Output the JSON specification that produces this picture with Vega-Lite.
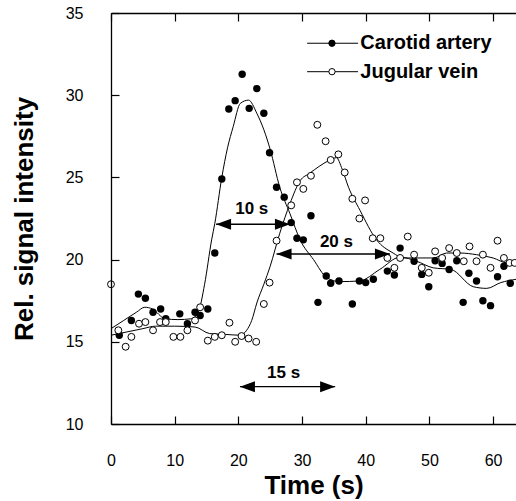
{
  "$schema": "https://vega.github.io/schema/vega-lite/v6.json",
  "width": 405,
  "height": 411,
  "autosize": {"type": "none"},
  "padding": {"left": 111, "top": 13, "right": 0, "bottom": 77},
  "background": "white",
  "config": {
    "view": {"stroke": null},
    "font": "Liberation Sans"
  },
  "datasets": {
    "carotid": [
      {"t": 1.3, "v": 15.4}, {"t": 3.2, "v": 16.3}, {"t": 4.3, "v": 17.9}, {"t": 5.4, "v": 17.65},
      {"t": 6.6, "v": 16.8}, {"t": 7.8, "v": 17.0}, {"t": 8.6, "v": 16.4}, {"t": 10.8, "v": 16.7},
      {"t": 12.0, "v": 16.1}, {"t": 13.2, "v": 16.8}, {"t": 14.0, "v": 16.6}, {"t": 15.2, "v": 17.0},
      {"t": 16.3, "v": 20.4}, {"t": 17.4, "v": 24.9}, {"t": 18.5, "v": 29.16}, {"t": 19.5, "v": 29.67},
      {"t": 20.6, "v": 31.27}, {"t": 21.7, "v": 29.2}, {"t": 22.9, "v": 30.4}, {"t": 24.0, "v": 28.9},
      {"t": 24.9, "v": 26.5}, {"t": 26.0, "v": 24.4}, {"t": 27.2, "v": 23.8}, {"t": 28.3, "v": 22.25},
      {"t": 29.2, "v": 21.3}, {"t": 30.2, "v": 21.2}, {"t": 31.4, "v": 22.67}, {"t": 32.5, "v": 17.4},
      {"t": 33.8, "v": 19.0}, {"t": 34.5, "v": 18.56}, {"t": 35.8, "v": 18.7}, {"t": 37.9, "v": 17.3},
      {"t": 39.0, "v": 18.7}, {"t": 40.0, "v": 18.6}, {"t": 41.2, "v": 18.8}, {"t": 43.4, "v": 19.3},
      {"t": 44.5, "v": 19.06}, {"t": 45.4, "v": 20.7}, {"t": 47.6, "v": 19.9}, {"t": 48.8, "v": 19.1},
      {"t": 49.9, "v": 18.35}, {"t": 50.9, "v": 19.93}, {"t": 52.0, "v": 19.77}, {"t": 53.1, "v": 19.4},
      {"t": 54.3, "v": 19.93}, {"t": 55.3, "v": 17.4}, {"t": 56.2, "v": 19.17}, {"t": 57.4, "v": 18.7},
      {"t": 58.4, "v": 17.5}, {"t": 59.6, "v": 17.2}, {"t": 60.7, "v": 18.96}, {"t": 61.7, "v": 19.6},
      {"t": 62.7, "v": 18.56}
    ],
    "jugular": [
      {"t": 0.0, "v": 18.5}, {"t": 1.15, "v": 15.7}, {"t": 2.3, "v": 14.7}, {"t": 3.2, "v": 15.3},
      {"t": 4.4, "v": 16.1}, {"t": 5.4, "v": 16.2}, {"t": 6.6, "v": 15.7}, {"t": 7.7, "v": 16.2},
      {"t": 8.6, "v": 16.2}, {"t": 9.8, "v": 15.3}, {"t": 10.9, "v": 15.3}, {"t": 12.0, "v": 15.7},
      {"t": 13.2, "v": 16.3}, {"t": 14.0, "v": 17.1}, {"t": 15.2, "v": 15.07}, {"t": 16.3, "v": 15.3},
      {"t": 17.4, "v": 15.4}, {"t": 18.6, "v": 16.16}, {"t": 19.5, "v": 15.0}, {"t": 20.5, "v": 15.35},
      {"t": 21.6, "v": 15.2}, {"t": 22.8, "v": 15.0}, {"t": 24.0, "v": 17.3}, {"t": 24.9, "v": 18.6},
      {"t": 26.0, "v": 21.15}, {"t": 28.3, "v": 23.3}, {"t": 29.2, "v": 24.7}, {"t": 30.2, "v": 24.3},
      {"t": 31.4, "v": 25.1}, {"t": 32.4, "v": 28.2}, {"t": 33.7, "v": 27.2}, {"t": 34.5, "v": 26.06},
      {"t": 35.7, "v": 26.4}, {"t": 36.7, "v": 25.3}, {"t": 37.9, "v": 23.7}, {"t": 39.0, "v": 22.5},
      {"t": 39.9, "v": 23.6}, {"t": 41.1, "v": 21.3}, {"t": 42.3, "v": 21.3}, {"t": 43.4, "v": 20.1},
      {"t": 44.5, "v": 19.5}, {"t": 45.4, "v": 20.1}, {"t": 46.6, "v": 21.4}, {"t": 47.6, "v": 20.3},
      {"t": 48.8, "v": 19.5}, {"t": 49.9, "v": 19.2}, {"t": 50.9, "v": 20.5}, {"t": 52.0, "v": 20.1},
      {"t": 53.1, "v": 20.7}, {"t": 54.3, "v": 20.4}, {"t": 55.4, "v": 19.9}, {"t": 56.3, "v": 20.8},
      {"t": 57.4, "v": 19.9}, {"t": 58.4, "v": 20.3}, {"t": 59.6, "v": 19.5}, {"t": 60.7, "v": 21.15},
      {"t": 61.7, "v": 20.1}, {"t": 62.6, "v": 19.8}, {"t": 63.4, "v": 19.8}
    ],
    "fit": [
      {"series": "Carotid artery", "t": 0, "v": 15.8}, {"series": "Carotid artery", "t": 2, "v": 16.3},
      {"series": "Carotid artery", "t": 4, "v": 16.8}, {"series": "Carotid artery", "t": 5.3, "v": 17.1},
      {"series": "Carotid artery", "t": 6.5, "v": 17.0}, {"series": "Carotid artery", "t": 8.5, "v": 16.4},
      {"series": "Carotid artery", "t": 10.5, "v": 16.35}, {"series": "Carotid artery", "t": 12.6, "v": 16.4},
      {"series": "Carotid artery", "t": 13.7, "v": 16.8}, {"series": "Carotid artery", "t": 14.7, "v": 18.5},
      {"series": "Carotid artery", "t": 15.8, "v": 21.2}, {"series": "Carotid artery", "t": 16.3, "v": 22.2},
      {"series": "Carotid artery", "t": 17.4, "v": 25.0}, {"series": "Carotid artery", "t": 18.3, "v": 26.8},
      {"series": "Carotid artery", "t": 19.2, "v": 28.1}, {"series": "Carotid artery", "t": 20.3, "v": 29.5},
      {"series": "Carotid artery", "t": 21.6, "v": 29.7}, {"series": "Carotid artery", "t": 22.9, "v": 28.9},
      {"series": "Carotid artery", "t": 24.0, "v": 27.9}, {"series": "Carotid artery", "t": 25.0, "v": 26.7},
      {"series": "Carotid artery", "t": 26.5, "v": 24.4}, {"series": "Carotid artery", "t": 28.1, "v": 22.8},
      {"series": "Carotid artery", "t": 29.7, "v": 21.2}, {"series": "Carotid artery", "t": 31.8, "v": 20.0},
      {"series": "Carotid artery", "t": 33.9, "v": 18.9}, {"series": "Carotid artery", "t": 35.9, "v": 18.66},
      {"series": "Carotid artery", "t": 39.0, "v": 18.7}, {"series": "Carotid artery", "t": 42.2, "v": 19.4},
      {"series": "Carotid artery", "t": 45.4, "v": 20.15}, {"series": "Carotid artery", "t": 48.0, "v": 19.9},
      {"series": "Carotid artery", "t": 50.6, "v": 19.5}, {"series": "Carotid artery", "t": 53.4, "v": 19.4},
      {"series": "Carotid artery", "t": 56.9, "v": 18.35}, {"series": "Carotid artery", "t": 59.0, "v": 18.25},
      {"series": "Carotid artery", "t": 61.2, "v": 18.6}, {"series": "Carotid artery", "t": 63.6, "v": 18.8},
      {"series": "Jugular vein", "t": 0, "v": 15.4}, {"series": "Jugular vein", "t": 2.5, "v": 15.6},
      {"series": "Jugular vein", "t": 5, "v": 15.8}, {"series": "Jugular vein", "t": 7, "v": 15.95},
      {"series": "Jugular vein", "t": 10, "v": 15.95}, {"series": "Jugular vein", "t": 13.2, "v": 15.9},
      {"series": "Jugular vein", "t": 15.5, "v": 15.5}, {"series": "Jugular vein", "t": 18, "v": 15.45},
      {"series": "Jugular vein", "t": 20.3, "v": 15.4}, {"series": "Jugular vein", "t": 21.3, "v": 15.7},
      {"series": "Jugular vein", "t": 22.1, "v": 16.3}, {"series": "Jugular vein", "t": 22.9, "v": 17.36},
      {"series": "Jugular vein", "t": 24.0, "v": 18.5}, {"series": "Jugular vein", "t": 25.0, "v": 19.6},
      {"series": "Jugular vein", "t": 26.5, "v": 21.6}, {"series": "Jugular vein", "t": 28.1, "v": 23.4},
      {"series": "Jugular vein", "t": 29.7, "v": 24.8}, {"series": "Jugular vein", "t": 31.2, "v": 25.25},
      {"series": "Jugular vein", "t": 32.8, "v": 25.7}, {"series": "Jugular vein", "t": 34.4, "v": 26.06},
      {"series": "Jugular vein", "t": 35.4, "v": 26.2}, {"series": "Jugular vein", "t": 36.3, "v": 25.5},
      {"series": "Jugular vein", "t": 37.3, "v": 24.4}, {"series": "Jugular vein", "t": 39.1, "v": 23.0},
      {"series": "Jugular vein", "t": 41.7, "v": 21.2}, {"series": "Jugular vein", "t": 44.3, "v": 20.4},
      {"series": "Jugular vein", "t": 45.9, "v": 20.1}, {"series": "Jugular vein", "t": 50.7, "v": 20.1},
      {"series": "Jugular vein", "t": 52.7, "v": 20.4}, {"series": "Jugular vein", "t": 54.8, "v": 20.4},
      {"series": "Jugular vein", "t": 57.4, "v": 20.3}, {"series": "Jugular vein", "t": 60.0, "v": 20.1},
      {"series": "Jugular vein", "t": 62.2, "v": 19.8}, {"series": "Jugular vein", "t": 63.6, "v": 19.8}
    ],
    "arrows": [
      {"label": "10 s", "t": 16.5, "t2": 28.1, "v": 22.15},
      {"label": "20 s", "t": 26.0, "t2": 43.8, "v": 20.34},
      {"label": "15 s", "t": 20.25, "t2": 35.2, "v": 12.27}
    ],
    "arrowLabels": [
      {"label": "10 s", "t": 22.1, "v": 23.06},
      {"label": "20 s", "t": 35.4, "v": 21.1},
      {"label": "15 s", "t": 27.1, "v": 13.08}
    ],
    "legend": [
      {"series": "Carotid artery", "t": 30.8, "t2": 38.8, "tm": 34.7, "tt": 39.0, "v": 33.16},
      {"series": "Jugular vein", "t": 30.8, "t2": 38.8, "tm": 34.7, "tt": 39.0, "v": 31.43}
    ]
  },
  "encoding": {
    "y": {"field": "v", "type": "quantitative", "scale": {"domain": [10, 35], "nice": false, "zero": false},
          "axis": {"orient": "left", "values": [10, 15, 20, 25, 30, 35], "grid": false, "domain": true, "domainColor": "black", "domainWidth": 1.3, "zindex": 1,
                   "ticks": true, "tickColor": "black", "tickWidth": 1.2, "tickSize": -8,
                   "labelFont": "Liberation Sans", "labelFontSize": 16, "labelColor": "black", "labelPadding": 36, "labelFlush": false,
                   "title": "Rel. signal intensity", "titleFont": "Liberation Sans", "titleFontSize": 26, "titleFontWeight": "bold", "titleColor": "black", "titlePadding": 28}}
  },
  "resolve": {"axis": {"x": "independent"}},
  "layer": [
    {
      "data": {"name": "fit"},
      "mark": {"type": "line", "color": "black", "strokeWidth": 1, "interpolate": "monotone"},
      "encoding": {
        "x": {"field": "t", "type": "quantitative", "scale": {"domain": [0, 63.6], "nice": false, "zero": false},
              "axis": {"orient": "bottom", "values": [0, 10, 20, 30, 40, 50, 60], "grid": false, "domain": true, "domainColor": "black", "domainWidth": 1.3, "zindex": 1,
                       "ticks": true, "tickColor": "black", "tickWidth": 1.2, "tickSize": -8,
                       "labelFont": "Liberation Sans", "labelFontSize": 16, "labelColor": "black", "labelPadding": 36, "labelFlush": false,
                       "title": "Time (s)", "titleFont": "Liberation Sans", "titleFontSize": 26, "titleFontWeight": "bold", "titleColor": "black", "titlePadding": 4}},
        "detail": {"field": "series", "type": "nominal"}
      }
    },
    {
      "data": {"name": "carotid"},
      "mark": {"type": "circle", "color": "black", "opacity": 1, "size": 55},
      "encoding": {
        "x": {"field": "t", "type": "quantitative", "scale": {"domain": [0, 63.6], "nice": false, "zero": false},
              "axis": {"orient": "top", "values": [0, 10, 20, 30, 40, 50, 60], "grid": false, "domain": true, "domainColor": "black", "domainWidth": 1.3, "zindex": 1,
                       "ticks": true, "tickColor": "black", "tickWidth": 1.2, "tickSize": -8, "labels": false, "title": null}}
      }
    },
    {
      "data": {"name": "jugular"},
      "mark": {"type": "circle", "fill": "white", "stroke": "black", "strokeWidth": 1, "opacity": 1, "size": 48},
      "encoding": {
        "x": {"field": "t", "type": "quantitative", "scale": {"domain": [0, 63.6], "nice": false, "zero": false}, "axis": null}
      }
    },
    {
      "data": {"name": "arrows"},
      "mark": {"type": "rule", "color": "black", "strokeWidth": 1.3},
      "encoding": {
        "x": {"field": "t", "type": "quantitative", "scale": {"domain": [0, 63.6], "nice": false, "zero": false}, "axis": null},
        "x2": {"field": "t2"}
      }
    },
    {
      "data": {"name": "arrows"},
      "transform": [{"fold": ["t", "t2"], "as": ["end", "tx"]}],
      "mark": {"type": "point", "filled": true, "color": "black", "opacity": 1, "size": 225},
      "encoding": {
        "x": {"field": "tx", "type": "quantitative", "scale": {"domain": [0, 63.6], "nice": false, "zero": false}, "axis": null},
        "shape": {"field": "end", "type": "nominal", "scale": {"domain": ["t", "t2"], "range": ["M0,0L2,-0.73L2,0.73Z", "M0,0L-2,-0.73L-2,0.73Z"]}, "legend": null}
      }
    },
    {
      "data": {"name": "arrowLabels"},
      "mark": {"type": "text", "font": "Liberation Sans", "fontSize": 17, "fontWeight": "bold", "color": "black", "align": "center", "baseline": "middle"},
      "encoding": {
        "x": {"field": "t", "type": "quantitative", "scale": {"domain": [0, 63.6], "nice": false, "zero": false}, "axis": null},
        "text": {"field": "label"}
      }
    },
    {
      "data": {"name": "legend"},
      "mark": {"type": "rule", "color": "black", "strokeWidth": 1},
      "encoding": {
        "x": {"field": "t", "type": "quantitative", "scale": {"domain": [0, 63.6], "nice": false, "zero": false}, "axis": null},
        "x2": {"field": "t2"}
      }
    },
    {
      "data": {"name": "legend"},
      "mark": {"type": "circle", "stroke": "black", "strokeWidth": 1, "opacity": 1, "size": 40},
      "encoding": {
        "x": {"field": "tm", "type": "quantitative", "scale": {"domain": [0, 63.6], "nice": false, "zero": false}, "axis": null},
        "fill": {"field": "series", "type": "nominal", "scale": {"domain": ["Carotid artery", "Jugular vein"], "range": ["black", "white"]}, "legend": null}
      }
    },
    {
      "data": {"name": "legend"},
      "mark": {"type": "text", "font": "Liberation Sans", "fontSize": 20, "fontWeight": "bold", "color": "black", "align": "left", "baseline": "middle", "dx": 1},
      "encoding": {
        "x": {"field": "tt", "type": "quantitative", "scale": {"domain": [0, 63.6], "nice": false, "zero": false}, "axis": null},
        "text": {"field": "series"}
      }
    }
  ]
}
